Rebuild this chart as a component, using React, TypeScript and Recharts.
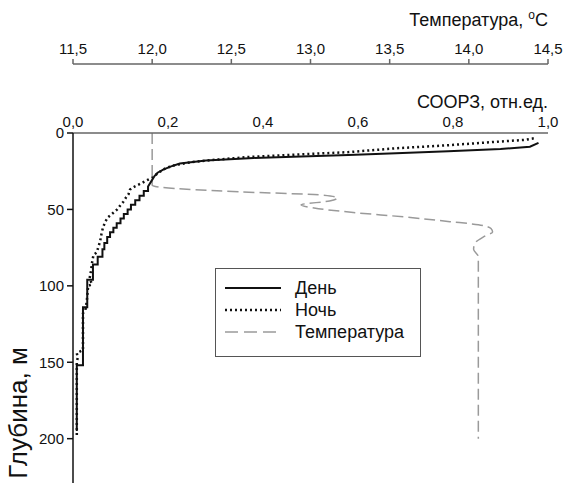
import React from "react";
import { LineChart, Line, XAxis, YAxis, Legend } from "recharts";

// depth profiles: СООРЗ (relative units) for day / night, temperature in °C
const sooTicks = [0, 0.2, 0.4, 0.6, 0.8, 1.0];
const tempTicks = [11.5, 12, 12.5, 13, 13.5, 14, 14.5];
const depthTicks = [0, 50, 100, 150, 200];

const dayDepths = [
  6.5, 9, 10.5, 12, 13.2, 14.4, 16.3, 18, 20, 22, 24, 26, 28, 31, 35,
  38, 38, 41, 41, 44, 44, 47, 47, 50, 50, 53, 53, 56, 56, 59, 59, 62, 62,
  65, 65, 68, 68, 72, 72, 76, 76, 81, 81, 86, 86, 96, 96, 114, 114, 152, 152, 195,
];
const dayValues = [
  0.98, 0.962, 0.9, 0.79, 0.68, 0.58, 0.38, 0.28, 0.225, 0.205, 0.19, 0.178, 0.172, 0.166, 0.158,
  0.158, 0.149, 0.149, 0.14, 0.14, 0.131, 0.131, 0.122, 0.122, 0.115, 0.115, 0.107, 0.107, 0.1,
  0.1, 0.092, 0.092, 0.085, 0.085, 0.078, 0.078, 0.072, 0.072, 0.066, 0.066, 0.062, 0.062, 0.052,
  0.052, 0.042, 0.042, 0.03, 0.03, 0.021, 0.021, 0.008, 0.008,
];

const nightDepths = [
  3.5, 4.5, 6, 8, 10, 12.5, 14, 15.7, 17.5, 19, 21, 23, 26, 29, 31, 33, 35, 37, 40, 42, 45,
  48, 50, 53, 55, 58, 62, 66, 71, 75, 78, 80, 85, 90, 95, 99, 100, 110, 116, 118, 142, 144,
  147, 150, 199,
];
const nightValues = [
  0.97, 0.95, 0.88, 0.79, 0.68, 0.58, 0.48, 0.37, 0.3, 0.25, 0.215, 0.195, 0.18, 0.168, 0.155,
  0.143, 0.13, 0.12, 0.117, 0.112, 0.106, 0.098, 0.093, 0.082, 0.074, 0.068, 0.063, 0.06, 0.057,
  0.053, 0.05, 0.043, 0.04, 0.038, 0.035, 0.04, 0.032, 0.029, 0.026, 0.021, 0.021, 0.008, 0.01,
  0.008, 0.008,
];

const tempDepths = [0, 34, 35, 38.5, 40.5, 42.5, 44.5, 47, 49.5, 52, 55, 58, 60, 62.5, 64.7, 67.5, 72, 76, 81, 200];
const tempValues = [
  12.0, 12.0, 12.02, 12.55, 13.06, 13.17, 13.12, 12.94, 13.05, 13.27, 13.6, 13.88, 14.06, 14.14,
  14.15, 14.1, 14.04, 14.03, 14.06, 14.06,
];

const legendItems = [
  { name: "День", stroke: "#111", width: 2, dash: undefined },
  { name: "Ночь", stroke: "#111", width: 2.5, dash: "2 3" },
  { name: "Температура", stroke: "#9a9a9a", width: 1.5, dash: "13 6" },
];

const toRows = (depths: number[], values: number[]) =>
  depths.map((depth, i) => ({ depth, value: values[i] }));

const dayData = toRows(dayDepths, dayValues);
const nightData = toRows(nightDepths, nightValues);
const tempData = toRows(tempDepths, tempValues);

const fmt = (v: number) => v.toFixed(1).replace(".", ",");
const FONT = "'Liberation Sans', Arial, sans-serif";
const tickStyle = { fontSize: 15, fill: "#111", fontFamily: FONT };

const tempTitle = (props: any) => {
  const vb = props.viewBox || { x: 73, y: 0, width: 475, height: 64 };
  return (
    <text x={vb.x + vb.width} y={vb.y + 26} textAnchor="end" fontSize={18} fill="#111" fontFamily={FONT}>
      <tspan>Температура, </tspan>
      <tspan fontSize={12} dy={-7}>o</tspan>
      <tspan dy={7}>C</tspan>
    </text>
  );
};

const sooTitle = (props: any) => {
  const vb = props.viewBox || { x: 73, y: 64, width: 475, height: 69 };
  return (
    <text x={vb.x + vb.width} y={vb.y + 44} textAnchor="end" fontSize={18} fill="#111" fontFamily={FONT}>
      СООРЗ, отн.ед.
    </text>
  );
};

const depthTitle = () => (
  <text
    x={18}
    y={413}
    transform="rotate(-90, 18, 413)"
    textAnchor="middle"
    dominantBaseline="central"
    fontSize={26}
    fill="#111"
    fontFamily={FONT}
  >
    Глубина, м
  </text>
);

const renderLegend = () => (
  <div
    style={{
      boxSizing: "border-box",
      width: 206,
      height: 89,
      border: "1.5px solid #555",
      background: "#fff",
      paddingTop: 8,
      fontFamily: FONT,
      fontSize: 18,
      color: "#111",
    }}
  >
    {legendItems.map((item) => (
      <div key={item.name} style={{ display: "flex", alignItems: "center", height: 22 }}>
        <svg width={56} height={8} style={{ marginLeft: 9, marginRight: 14 }}>
          <line
            x1={0}
            x2={56}
            y1={4}
            y2={4}
            stroke={item.stroke}
            strokeWidth={item.width}
            strokeDasharray={item.dash}
          />
        </svg>
        <span>{item.name}</span>
      </div>
    ))}
  </div>
);

export default function App() {
  return (
    <div style={{ width: 577, height: 484, background: "#fff" }}>
      <style>{"body{margin:0;overflow:hidden;background:#fff}"}</style>
      <LineChart
        width={577}
        height={484}
        layout="vertical"
        margin={{ top: 0, right: 29, bottom: 1, left: 0 }}
      >
        <XAxis
          xAxisId="soor"
          orientation="top"
          type="number"
          domain={[0, 1]}
          ticks={sooTicks}
          interval={0}
          allowDataOverflow
          height={69}
          tickLine={false}
          tickSize={0}
          tickMargin={6}
          tickFormatter={fmt}
          tick={tickStyle}
          axisLine={{ stroke: "#666", strokeWidth: 1.5 }}
          label={{ content: sooTitle }}
        />
        <XAxis
          xAxisId="temp"
          orientation="top"
          type="number"
          domain={[11.5, 14.5]}
          ticks={tempTicks}
          interval={0}
          allowDataOverflow
          height={64}
          tickSize={5}
          tickMargin={5}
          tickFormatter={fmt}
          tick={tickStyle}
          tickLine={{ stroke: "#666", strokeWidth: 1.5 }}
          axisLine={{ stroke: "#666", strokeWidth: 1.5 }}
          label={{ content: tempTitle }}
        />
        <YAxis
          type="number"
          dataKey="depth"
          domain={[0, 229]}
          ticks={depthTicks}
          interval={0}
          allowDataOverflow
          width={73}
          tickSize={6}
          tickMargin={3}
          tick={tickStyle}
          tickLine={{ stroke: "#111", strokeWidth: 1.5 }}
          axisLine={{ stroke: "#111", strokeWidth: 1.5 }}
          label={{ content: depthTitle }}
        />
        <Legend
          layout="vertical"
          align="center"
          verticalAlign="middle"
          wrapperStyle={{ left: 215, top: 268, width: 206, height: 89 }}
          content={renderLegend}
        />
        <Line
          xAxisId="temp"
          data={tempData}
          dataKey="value"
          type="monotone"
          stroke="#9a9a9a"
          strokeWidth={1.5}
          strokeDasharray="11 5"
          dot={false}
          activeDot={false}
          isAnimationActive={false}
        />
        <Line
          xAxisId="soor"
          data={nightData}
          dataKey="value"
          type="linear"
          stroke="#111"
          strokeWidth={2.5}
          strokeDasharray="2 3"
          dot={false}
          activeDot={false}
          isAnimationActive={false}
        />
        <Line
          xAxisId="soor"
          data={dayData}
          dataKey="value"
          type="linear"
          stroke="#111"
          strokeWidth={2}
          dot={false}
          activeDot={false}
          isAnimationActive={false}
        />
      </LineChart>
    </div>
  );
}
